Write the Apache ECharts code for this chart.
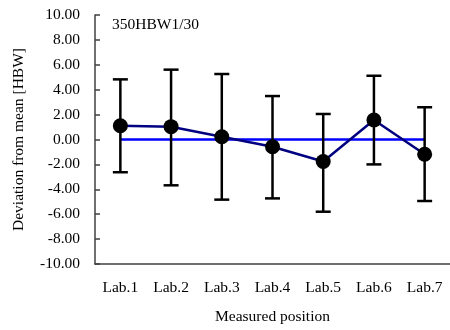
<!DOCTYPE html>
<html>
<head>
<meta charset="utf-8">
<script src="https://cdn.jsdelivr.net/npm/echarts@6/dist/echarts.min.js"></script>
<style>
  html, body { margin: 0; padding: 0; background: #fff; }
  #chart { width: 450px; height: 330px; }
</style>
</head>
<body>
<div id="chart"></div>
<script>
const labs = ["Lab.1", "Lab.2", "Lab.3", "Lab.4", "Lab.5", "Lab.6", "Lab.7"];
const means = [1.1, 1.03, 0.22, -0.58, -1.77, 1.57, -1.19];
const upper = [4.83, 5.61, 5.26, 3.49, 2.05, 5.12, 2.59];
const lower = [-2.63, -3.68, -4.83, -4.73, -5.8, -2.0, -4.94];
const baseline = [0, 0, 0, 0, 0, 0, 0];

const font = "Liberation Serif";
const errData = labs.map(function (l, i) {
  return [i, lower[i], upper[i]];
});

const chart = echarts.init(document.getElementById("chart"));
chart.setOption({
  animation: false,
  backgroundColor: "#fff",
  textStyle: { fontFamily: font },
  title: {
    text: "350HBW1/30",
    left: 112,
    top: 17,
    padding: 0,
    textStyle: { fontFamily: font, fontSize: 15.5, fontWeight: "normal", color: "#000" }
  },
  grid: { left: 95, top: 15, width: 358, height: 249 },
  xAxis: {
    type: "category",
    data: labs,
    boundaryGap: true,
    name: "Measured position",
    nameLocation: "middle",
    nameGap: 45,
    nameTextStyle: { fontFamily: font, fontSize: 15.5, color: "#000" },
    axisLine: { onZero: false, lineStyle: { color: "#404040", width: 1.5 } },
    axisTick: { inside: true, length: 4, lineStyle: { color: "#404040", width: 1.5 } },
    axisLabel: { fontFamily: font, fontSize: 15.5, color: "#000", margin: 16, interval: 0 },
    splitLine: { show: false }
  },
  yAxis: {
    type: "value",
    min: -10,
    max: 10,
    interval: 2,
    name: "Deviation from mean [HBW]",
    nameLocation: "middle",
    nameGap: 68,
    nameTextStyle: { fontFamily: font, fontSize: 15.5, color: "#000" },
    axisLine: { show: true, lineStyle: { color: "#404040", width: 1.5 } },
    axisTick: { show: true, inside: true, length: 5, lineStyle: { color: "#404040", width: 1.5 } },
    axisLabel: {
      fontFamily: font, fontSize: 15.5, color: "#000", margin: 15,
      formatter: function (v) { return v.toFixed(2); }
    },
    splitLine: { show: false }
  },
  series: [
    {
      type: "line",
      data: baseline,
      symbol: "none",
      lineStyle: { color: "#0000ff", width: 2.5 },
      z: 1
    },
    {
      type: "custom",
      data: errData,
      z: 2,
      renderItem: function (params, api) {
        const x = api.value(0);
        const lo = api.coord([x, api.value(1)]);
        const hi = api.coord([x, api.value(2)]);
        const cap = 7.5;
        const style = { stroke: "#000", lineWidth: 2.5 };
        return {
          type: "group",
          children: [
            { type: "line", shape: { x1: hi[0], y1: hi[1], x2: lo[0], y2: lo[1] }, style: style },
            { type: "line", shape: { x1: hi[0] - cap, y1: hi[1], x2: hi[0] + cap, y2: hi[1] }, style: style },
            { type: "line", shape: { x1: lo[0] - cap, y1: lo[1], x2: lo[0] + cap, y2: lo[1] }, style: style }
          ]
        };
      }
    },
    {
      type: "line",
      data: means,
      symbol: "circle",
      symbolSize: 15,
      itemStyle: { color: "#000" },
      lineStyle: { color: "#000080", width: 2.5 },
      z: 3
    }
  ]
});
</script>
</body>
</html>
